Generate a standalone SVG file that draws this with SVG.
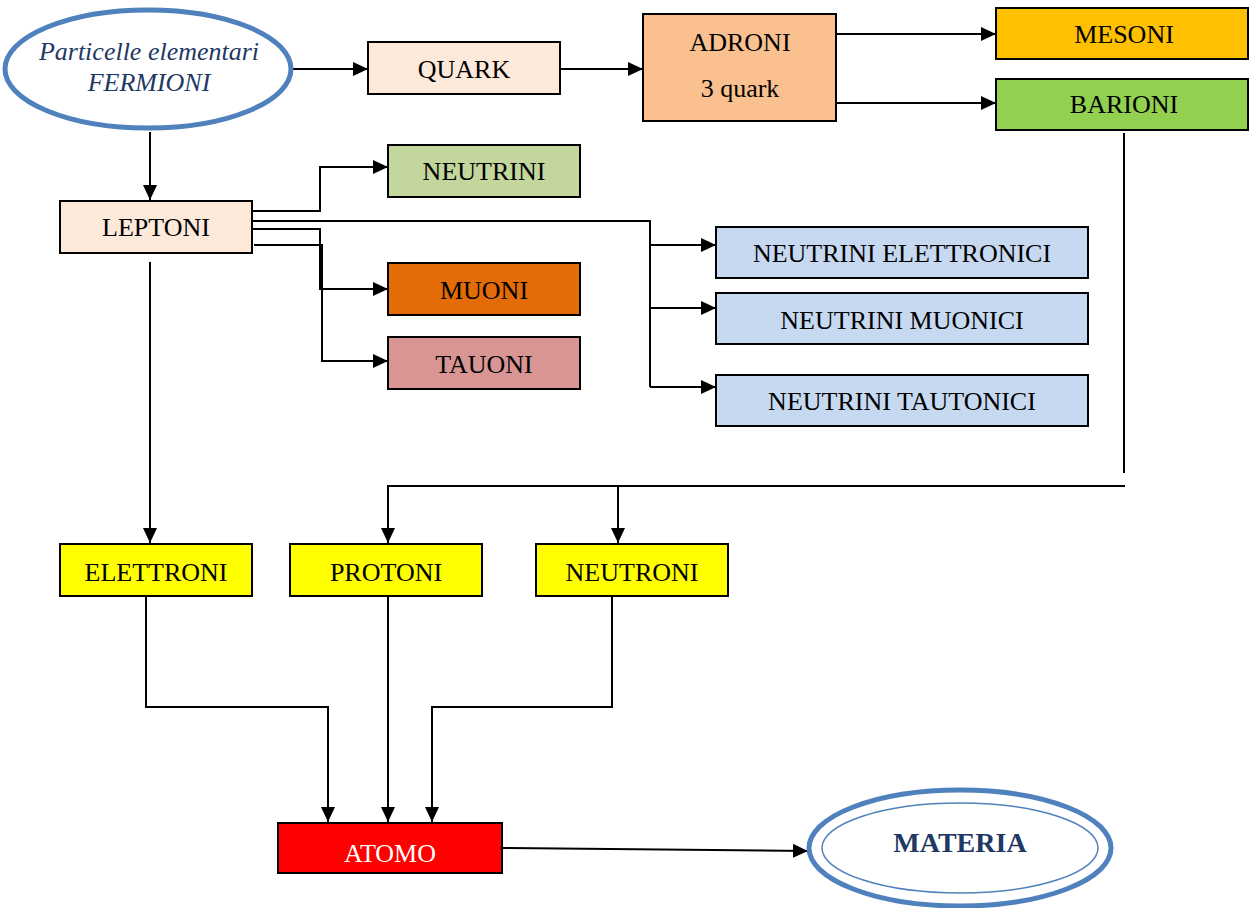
<svg xmlns="http://www.w3.org/2000/svg" width="1249" height="908" viewBox="0 0 1249 908">
<style>
.box{stroke:#000;stroke-width:2}
.t{font-family:"Liberation Serif","Times New Roman",serif;font-size:26px;fill:#000;text-anchor:middle}
.c{fill:none;stroke:#000;stroke-width:2}
</style>
<defs>
<marker id="ah" markerUnits="userSpaceOnUse" markerWidth="15" markerHeight="14" refX="15" refY="7" orient="auto">
<path d="M0,0 L15,7 L0,14 z" fill="#000"/>
</marker>
</defs>
<rect width="1249" height="908" fill="#fff"/>
<g id="connectors">
<path class="c" d="M293,69 H368" marker-end="url(#ah)"/>
<path class="c" d="M560,69 H643" marker-end="url(#ah)"/>
<path class="c" d="M836,34 H996" marker-end="url(#ah)"/>
<path class="c" d="M836,103 H996" marker-end="url(#ah)"/>
<path class="c" d="M150,132 V200" marker-end="url(#ah)"/>
<path class="c" d="M252,211 H320 V167 H388" marker-end="url(#ah)"/>
<path class="c" d="M252,221 H650 V387"/>
<path class="c" d="M650,245 H716" marker-end="url(#ah)"/>
<path class="c" d="M650,308 H716" marker-end="url(#ah)"/>
<path class="c" d="M650,387 H716" marker-end="url(#ah)"/>
<path class="c" d="M252,229 H320 V289 H388" marker-end="url(#ah)"/>
<path class="c" d="M254,245 H322 V361 H388" marker-end="url(#ah)"/>
<path class="c" d="M150,262 V543" marker-end="url(#ah)"/>
<path class="c" d="M1124,133 V473"/>
<path class="c" d="M1125,486 H388 V543" marker-end="url(#ah)"/>
<path class="c" d="M618,486 V543" marker-end="url(#ah)"/>
<path class="c" d="M146,596 V707 H328 V822" marker-end="url(#ah)"/>
<path class="c" d="M388,596 V822" marker-end="url(#ah)"/>
<path class="c" d="M612,596 V707 H432 V822" marker-end="url(#ah)"/>
<path class="c" d="M502,848 L808,851" marker-end="url(#ah)"/>
</g>
<g id="fermioni">
<ellipse cx="148" cy="69" rx="143" ry="59" fill="#fff" stroke="#4F81BD" stroke-width="5"/>
<text x="149" y="60" font-family="Liberation Serif, serif" font-size="26" font-style="italic" fill="#1F3864" text-anchor="middle">Particelle elementari</text>
<text x="149" y="91" font-family="Liberation Serif, serif" font-size="26" font-style="italic" fill="#1F3864" text-anchor="middle">FERMIONI</text>
</g>
<g id="quark"><rect class="box" x="368" y="42" width="192" height="52" fill="#FDE9D9"/><text class="t" x="464" y="78">QUARK</text></g>
<g id="adroni"><rect class="box" x="643" y="14" width="193" height="107" fill="#FAC090"/><text class="t" x="740" y="51">ADRONI</text><text class="t" x="740" y="97">3 quark</text></g>
<g id="mesoni"><rect class="box" x="996" y="8" width="252" height="51" fill="#FFC000"/><text class="t" x="1124" y="43">MESONI</text></g>
<g id="barioni"><rect class="box" x="996" y="79" width="252" height="51" fill="#92D050"/><text class="t" x="1124" y="113">BARIONI</text></g>
<g id="leptoni"><rect class="box" x="60" y="201" width="192" height="52" fill="#FDE9D9"/><text class="t" x="156" y="236">LEPTONI</text></g>
<g id="neutrini"><rect class="box" x="388" y="145" width="192" height="52" fill="#C3D69B"/><text class="t" x="484" y="180">NEUTRINI</text></g>
<g id="muoni"><rect class="box" x="388" y="263" width="192" height="52" fill="#E36C09"/><text class="t" x="484" y="299">MUONI</text></g>
<g id="tauoni"><rect class="box" x="388" y="337" width="192" height="52" fill="#D99594"/><text class="t" x="484" y="373">TAUONI</text></g>
<g id="neutrini-elettronici"><rect class="box" x="716" y="227" width="372" height="51" fill="#C6D9F1"/><text class="t" x="902" y="262">NEUTRINI ELETTRONICI</text></g>
<g id="neutrini-muonici"><rect class="box" x="716" y="293" width="372" height="51" fill="#C6D9F1"/><text class="t" x="902" y="329">NEUTRINI MUONICI</text></g>
<g id="neutrini-tautonici"><rect class="box" x="716" y="375" width="372" height="51" fill="#C6D9F1"/><text class="t" x="902" y="410">NEUTRINI TAUTONICI</text></g>
<g id="elettroni"><rect class="box" x="60" y="544" width="192" height="52" fill="#FFFF00"/><text class="t" x="156" y="581">ELETTRONI</text></g>
<g id="protoni"><rect class="box" x="290" y="544" width="192" height="52" fill="#FFFF00"/><text class="t" x="386" y="581">PROTONI</text></g>
<g id="neutroni"><rect class="box" x="536" y="544" width="192" height="52" fill="#FFFF00"/><text class="t" x="632" y="581">NEUTRONI</text></g>
<g id="atomo"><rect class="box" x="278" y="823" width="224" height="50" fill="#FF0000"/><text class="t" x="390" y="862" fill="#fff" style="fill:#fff">ATOMO</text></g>
<g id="materia">
<ellipse cx="960" cy="848" rx="151" ry="58" fill="#fff" stroke="#4F81BD" stroke-width="5"/>
<ellipse cx="960" cy="848" rx="138" ry="45" fill="none" stroke="#4F81BD" stroke-width="1.5"/>
<text x="960" y="852" font-family="Liberation Serif, serif" font-size="28" font-weight="bold" fill="#1F3864" text-anchor="middle">MATERIA</text>
</g>
</svg>
